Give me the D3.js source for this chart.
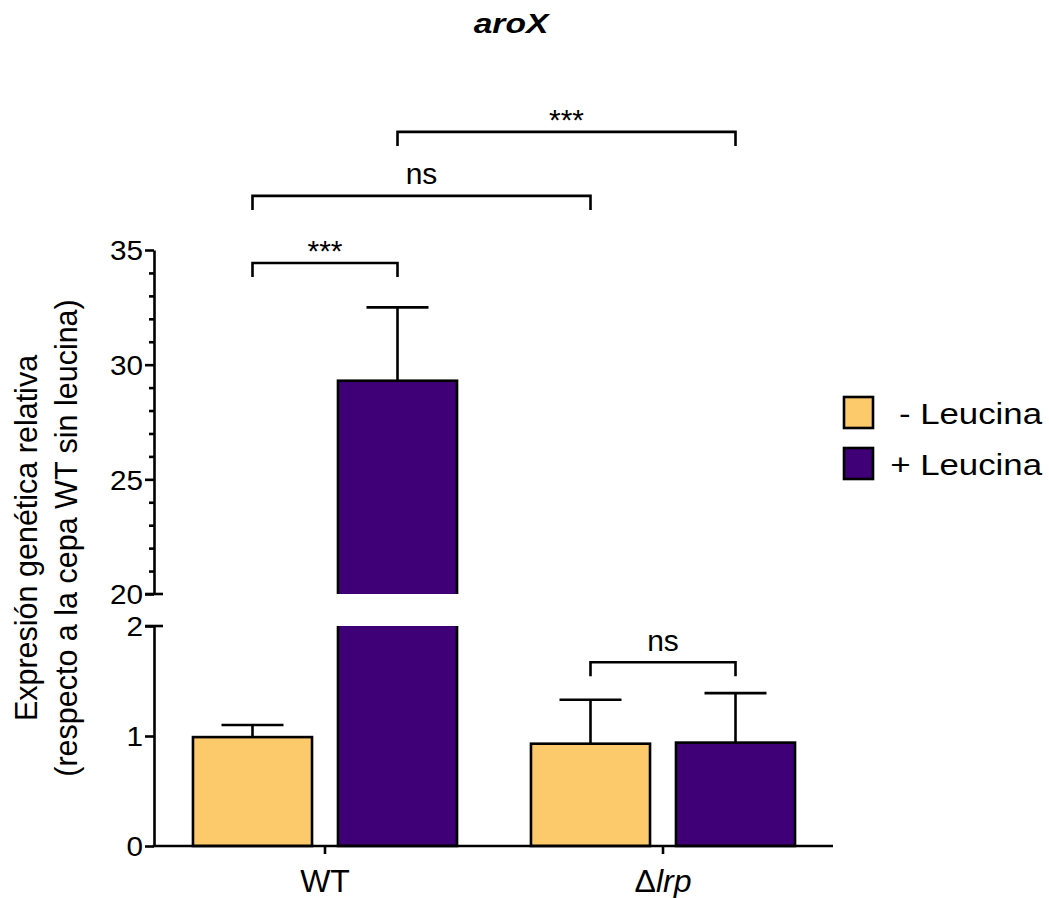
<!DOCTYPE html>
<html>
<head>
<meta charset="utf-8">
<script src="https://cdn.jsdelivr.net/npm/d3@7"></script>
<style>
  html, body { margin: 0; padding: 0; background: #fff; }
  svg { display: block; }
  text { font-family: "Liberation Sans", Arial, Helvetica, sans-serif; fill: #000; }
</style>
</head>
<body>
<svg id="chart" width="1049" height="898"></svg>
<script>
// ---------- data ----------
const groups = ["WT", "Δlrp"];
const series = ["- Leucina", "+ Leucina"];
const minusLeucina = [0.99, 0.93];
const plusLeucina = [29.3, 0.94];
const minusLeucinaErr = [0.11, 0.40];
const plusLeucinaErr = [3.2, 0.45];
const lowTicks = [0, 1, 2];
const highTicks = [20, 25, 30, 35];
const highMinorTicks = [21, 22, 23, 24, 26, 27, 28, 29, 31, 32, 33, 34];
const colors = ["#FCC96B", "#3F0077"];
// significance brackets: [groupA, seriesA, groupB, seriesB, level(value), label]
const brackets = [
  ["WT", "- Leucina", "WT", "+ Leucina", 34.43, "***"],
  ["WT", "- Leucina", "Δlrp", "- Leucina", 37.36, "ns"],
  ["WT", "+ Leucina", "Δlrp", "+ Leucina", 40.15, "***"],
  ["Δlrp", "- Leucina", "Δlrp", "+ Leucina", 1.67, "ns"]
];

// ---------- layout ----------
const svg = d3.select("#chart");
const axisX = 154;
const xRight = 833;
const yLow = d3.scaleLinear().domain([0, 2]).range([846, 626]);
const yHigh = d3.scaleLinear().domain([20, 35]).range([594, 250]);
const x0 = d3.scaleBand().domain(groups).range([156, 832]).padding(0);
const x1 = d3.scaleBand().domain(series).range([0, x0.bandwidth()]).paddingInner(0.179).paddingOuter(0.255);
const stroke = 2.6;

const yAny = v => v <= 2 ? yLow(v) : yHigh(v);
const barCenter = (g, s) => x0(g) + x1(s) + x1.bandwidth() / 2;

// rows
const rows = [];
groups.forEach((g, i) => {
  rows.push({ g, s: series[0], v: minusLeucina[i], e: minusLeucinaErr[i], c: colors[0] });
  rows.push({ g, s: series[1], v: plusLeucina[i], e: plusLeucinaErr[i], c: colors[1] });
});

// clip paths for two segments
const defs = svg.append("defs");
defs.append("clipPath").attr("id", "clipLow").append("rect")
  .attr("x", axisX).attr("y", yLow(2)).attr("width", 800).attr("height", yLow(0) - yLow(2) + 10);
defs.append("clipPath").attr("id", "clipHigh").append("rect")
  .attr("x", axisX).attr("y", 0).attr("width", 800).attr("height", yHigh(20));

// low segment bars
const gLow = svg.append("g").attr("clip-path", "url(#clipLow)");
gLow.selectAll("rect").data(rows).join("rect")
  .attr("x", d => x0(d.g) + x1(d.s))
  .attr("width", x1.bandwidth())
  .attr("y", d => d.v > 2 ? yLow(2) - 10 : yLow(d.v))
  .attr("height", d => d.v > 2 ? yLow(0) - yLow(2) + 10 : yLow(0) - yLow(d.v))
  .attr("fill", d => d.c).attr("stroke", "#000").attr("stroke-width", stroke);

// high segment bars
const highRows = rows.filter(d => d.v > 20);
const gHigh = svg.append("g").attr("clip-path", "url(#clipHigh)");
gHigh.selectAll("rect").data(highRows).join("rect")
  .attr("x", d => x0(d.g) + x1(d.s))
  .attr("width", x1.bandwidth())
  .attr("y", d => yHigh(d.v))
  .attr("height", d => yHigh(20) + 10 - yHigh(d.v))
  .attr("fill", d => d.c).attr("stroke", "#000").attr("stroke-width", stroke);

// error bars
const capHalf = 31;
const gErr = svg.append("g").attr("stroke", "#000").attr("stroke-width", stroke);
rows.forEach(d => {
  const cx = barCenter(d.g, d.s);
  const yTop = yAny(d.v + d.e), yBar = yAny(d.v);
  gErr.append("line").attr("x1", cx).attr("x2", cx).attr("y1", yBar).attr("y2", yTop);
  gErr.append("line").attr("x1", cx - capHalf).attr("x2", cx + capHalf).attr("y1", yTop).attr("y2", yTop);
});

// y axes
const lowAxis = svg.append("g").attr("transform", `translate(${axisX},0)`)
  .call(d3.axisLeft(yLow).tickValues(lowTicks).tickSize(9).tickSizeOuter(0).tickFormat(d3.format("d")));
const highAxis = svg.append("g").attr("transform", `translate(${axisX},0)`)
  .call(d3.axisLeft(yHigh).tickValues(highTicks).tickSize(9).tickSizeOuter(0).tickFormat(d3.format("d")));
const highMinor = svg.append("g").attr("transform", `translate(${axisX},0)`)
  .call(d3.axisLeft(yHigh).tickValues(highMinorTicks).tickSize(5).tickSizeOuter(0).tickFormat(""));
highMinor.select(".domain").remove();
[lowAxis, highAxis, highMinor].forEach(a => {
  a.selectAll("path, line").attr("stroke", "#000").attr("stroke-width", stroke);
  a.selectAll("text").attr("font-size", 27).attr("font-family", "Liberation Sans, Arial, sans-serif")
    .attr("x", -10).attr("dy", "0.36em").attr("transform", "scale(1.1,1)");
});
// break caps
[yHigh(20), yLow(2)].forEach(yy => {
  svg.append("line").attr("x1", axisX - 9).attr("x2", axisX + 9).attr("y1", yy).attr("y2", yy)
    .attr("stroke", "#000").attr("stroke-width", stroke);
});

// x axis
const xAxis = svg.append("g").attr("transform", `translate(0,${yLow(0)})`)
  .call(d3.axisBottom(x0).tickSize(8).tickSizeOuter(0).tickFormat(""));
xAxis.select(".domain").attr("d", `M${axisX - stroke / 2},0H${xRight}`);
xAxis.selectAll("path, line").attr("stroke", "#000").attr("stroke-width", stroke);

// x labels
const xl = svg.append("g");
groups.forEach(g => {
  const t = xl.append("text").attr("x", x0(g) + x0.bandwidth() / 2).attr("y", 892)
    .attr("text-anchor", "middle").attr("font-size", 32);
  if (g.startsWith("Δ")) {
    t.append("tspan").text("Δ");
    t.append("tspan").attr("font-style", "italic").text(g.slice(1));
  } else t.text(g);
});

// y label
const yl = svg.append("text").attr("transform", "translate(37,538) rotate(-90)")
  .attr("text-anchor", "middle").attr("font-size", 30.5);
yl.append("tspan").attr("x", 0).attr("y", 0).text("Expresión genética relativa");
yl.append("tspan").attr("x", 0).attr("y", 40).text("(respecto a la cepa WT sin leucina)");

// title
svg.append("text").attr("transform", "translate(511,33) scale(1.2,1)").attr("text-anchor", "middle")
  .attr("font-size", 28).attr("font-weight", "bold").attr("font-style", "italic").text("aroX");

// brackets
const gB = svg.append("g");
brackets.forEach(([ga, sa, gb, sb, lvl, lab]) => {
  const xa = barCenter(ga, sa), xb = barCenter(gb, sb);
  const yy = yAny(lvl);
  gB.append("path").attr("d", `M${xa},${yy + 14}V${yy}H${xb}V${yy + 14}`)
    .attr("fill", "none").attr("stroke", "#000").attr("stroke-width", stroke);
  gB.append("text").attr("x", (xa + xb) / 2).attr("y", lab === "ns" ? yy - 11.5 : yy - 2)
    .attr("text-anchor", "middle").attr("font-size", 30).text(lab);
});

// legend
const lg = svg.append("g");
series.forEach((s, i) => {
  const yy = 397 + i * 51;
  lg.append("rect").attr("x", 844).attr("y", yy).attr("width", 29).attr("height", 31)
    .attr("fill", colors[i]).attr("stroke", "#000").attr("stroke-width", stroke);
  lg.append("text").attr("transform", `translate(1042,${yy + 27}) scale(1.2,1)`).attr("text-anchor", "end")
    .attr("font-size", 29).text(s);
});
</script>
</body>
</html>
